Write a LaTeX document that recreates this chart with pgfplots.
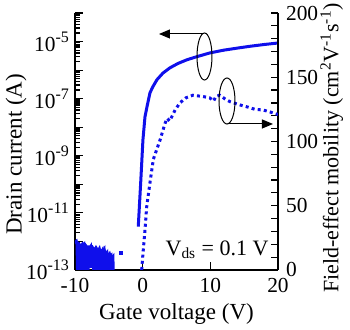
\documentclass[border=0pt]{standalone}
\usepackage{fontspec}
\setmainfont{Liberation Serif}
\usepackage{pgfplots}
\pgfplotsset{compat=1.18}
\usetikzlibrary{arrows.meta}
\definecolor{cblue}{RGB}{15,15,235}
\newcommand{\sps}[1]{\raisebox{0.9ex}{\fontsize{8}{9}\selectfont #1}}
\begin{document}
\fontsize{11.5}{13}\selectfont
\begin{tikzpicture}
\path[use as bounding box] (0,0) rectangle (175pt,165pt);
\begin{axis}[
  at={(37.5pt,30pt)}, anchor=south west,
  scale only axis, width=101.5pt, height=128.5pt,
  xmin=-10, xmax=20, ymode=log, ymin=1e-13, ymax=1e-4,
  axis y line*=left, axis x line*=bottom,
  xtick={-10,0,10,20}, xticklabels={-10,0,10,20},
  ytickten={-13,-12,-11,-10,-9,-8,-7,-6,-5,-4},
  yticklabels={10\sps{-13},,10\sps{-11},,10\sps{-9},,10\sps{-7},,10\sps{-5},},
  tick label style={font=\fontsize{10.7}{12}\selectfont},
  yticklabel style={xshift=1pt},
  label style={font=\fontsize{11.5}{13}\selectfont},
  xlabel={Gate voltage (V)}, ylabel={Drain current (A)},
  ylabel style={at={(axis description cs:-0.29,0.45)}, anchor=center},
  xlabel style={at={(axis description cs:0.5,-0.172)}, anchor=center},
  tick align=inside, major tick length=4pt, minor tick length=2.5pt,
  axis line style={line width=0.8pt}, tick style={line width=0.6pt,black},
  clip=true,
]
\addplot[cblue, line width=1.5pt] coordinates {
(-0.65,3.3e-12)(-0.3,1.05e-10)(0.04,3.6e-9)(0.34,2.3e-8)(0.63,5.1e-8)(1.08,1.6e-7)(1.5,2.6e-7)(2.11,4.6e-7)(3,7.9e-7)(4.03,1.2e-6)(5.2,1.7e-6)(6.54,2.3e-6)(8,2.95e-6)(9.94,4.0e-6)(12,5.0e-6)(14,5.9e-6)(16,6.9e-6)(18,7.9e-6)(20,8.9e-6)
};
\addplot[cblue, line width=1.5pt] coordinates {
(-10,1e-12)(-9.9,9.5e-13)(-9.8,1e-12)(-9.7,8e-13)(-9.6,5e-14)(-9.5,7e-13)(-9.4,8e-13)(-9.3,7.5e-13)(-9.2,3e-14)(-9.1,3e-14)(-9.0,7.5e-13)(-8.9,8e-13)(-8.8,7e-13)(-8.7,7.5e-13)(-8.6,5e-14)(-8.5,6e-13)(-8.4,7e-13)(-8.3,6.5e-13)(-8.2,3e-14)(-8.1,3e-14)(-8.0,6.5e-13)(-7.9,6.5e-13)(-7.8,6e-13)(-7.7,6.5e-13)(-7.6,1.2e-13)(-7.5,5.5e-13)(-7.4,6e-13)(-7.3,5.5e-13)(-7.2,3e-14)(-7.1,3e-14)(-7.0,5.5e-13)(-6.9,6e-13)(-6.8,5.5e-13)(-6.7,5e-13)(-6.6,1e-13)(-6.5,5e-13)(-6.4,5.5e-13)(-6.3,4.5e-13)(-6.2,3e-14)(-6.1,3e-14)(-6.0,4.5e-13)(-5.9,5e-13)(-5.8,4e-13)(-5.7,4.5e-13)(-5.6,8e-14)(-5.5,4e-13)(-5.4,3.5e-13)(-5.3,3.8e-13)(-5.2,3e-14)(-5.1,3e-14)(-5.0,3.2e-13)(-4.9,3.5e-13)(-4.8,2.8e-13)(-4.7,3e-13)(-4.6,5e-14)(-4.5,2.6e-13)(-4.4,2.8e-13)(-4.3,3e-14)
};
\addplot[cblue, only marks, mark=square*, mark size=0.9pt] coordinates {(-3.2,4e-13)};
\node[anchor=center, font=\fontsize{11}{13}\selectfont] at (rel axis cs:0.70,0.078) {V\textsubscript{ds} = 0.1 V};
\end{axis}
\begin{axis}[
  at={(37.5pt,30pt)}, anchor=south west,
  scale only axis, width=101.5pt, height=128.5pt,
  xmin=-10, xmax=20, ymin=0, ymax=200,
  axis y line*=right, axis x line=none,
  ytick={0,50,100,150,200}, minor y tick num=4,
  tick label style={font=\fontsize{10.7}{12}\selectfont},
  label style={font=\fontsize{11}{13}\selectfont},
  ylabel={Field-effect mobility (cm\textsuperscript{2}V\textsuperscript{-1}s\textsuperscript{-1})},
  ylabel style={at={(axis description cs:1.265,0.475)}, anchor=center},
  tick align=inside, major tick length=3.5pt, minor tick length=3.5pt,
  axis line style={line width=0.8pt}, tick style={line width=0.6pt,black},
  /pgf/number format/assume math mode=true,
]
\addplot[cblue, line width=1.5pt, dash pattern=on 1.5pt off 1.6pt] coordinates {
(-0.15,0)(0.09,15.6)(0.34,31)(0.59,49)(1.08,68)(1.57,86)(2.56,101)(3.3,114)(3.6,118)(4.0,116)(4.8,124.5)(5.5,130)(6.4,134)(7.43,136)(8.9,135)(9.9,134)(10.5,131.5)(10.8,135)(11.4,136)(12.2,133)(12.9,131)(14.4,128.4)(15.4,127)(16.6,125)(17.8,124.5)(18.8,123)(20,121)
};
\end{axis}
\draw[line width=0.5pt] (102.25pt,136.75pt) ellipse [x radius=3.75pt, y radius=11.75pt];
\draw[line width=0.5pt, -{Triangle[length=5.5pt,width=4.5pt]}] (102pt,148pt) -- (79.5pt,148pt);
\draw[line width=0.5pt] (113.5pt,114.5pt) ellipse [x radius=4pt, y radius=11.5pt];
\draw[line width=0.5pt, -{Triangle[length=5.5pt,width=4.5pt]}] (114pt,103pt) -- (136.5pt,103pt);
\end{tikzpicture}
\end{document}
